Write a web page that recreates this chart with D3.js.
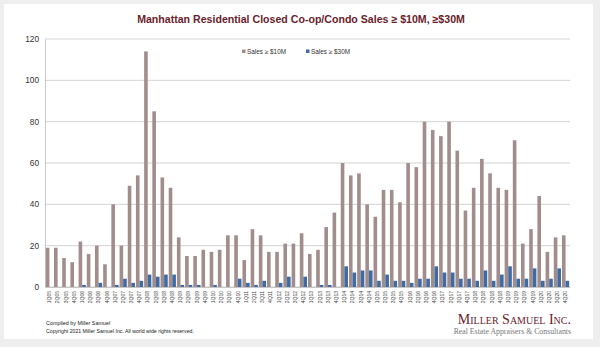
<!DOCTYPE html>
<html>
<head>
<meta charset="utf-8">
<script src="https://cdn.jsdelivr.net/npm/d3@7"></script>
<style>
  html, body { margin: 0; padding: 0; background: #eeeeee; }
  svg { display: block; }
</style>
</head>
<body>
<div id="chart-area"></div>
<script>
// quarters 1Q05 .. 4Q20
const years = d3.range(5, 21).map(y => (y < 10 ? '0' : '') + y);
const quarters = years.flatMap(y => ['1Q', '2Q', '3Q', '4Q'].map(q => q + y));

const sales10M = [
  19, 19, 14, 12, 22, 16, 20, 11, 40, 20, 49, 54, 114, 85, 53, 48,
  24, 15, 15, 18, 17, 18, 25, 25, 13, 28, 25, 17, 17, 21, 21, 26,
  16, 18, 29, 36, 60, 54, 55, 40, 34, 47, 47, 41, 60, 58, 80, 76,
  73, 80, 66, 37, 48, 62, 55, 48, 47, 71, 21, 28, 44, 17, 24, 25
];
const sales30M = [
  0, 0, 0, 0, 1, 0, 2, 0, 1, 4, 2, 3, 6, 5, 6, 6,
  1, 1, 1, 0, 1, 0, 0, 4, 2, 1, 3, 0, 2, 5, 0, 5,
  0, 1, 1, 0, 10, 7, 8, 8, 3, 6, 3, 3, 2, 4, 4, 10,
  7, 7, 4, 4, 3, 8, 3, 6, 10, 4, 4, 9, 3, 4, 9, 3
];
const yTicks = [0, 20, 40, 60, 80, 100, 120];
const seriesNames = ['Sales ≥ $10M', 'Sales ≥ $30M'];
const colors = ['#a28d8d', '#3f6ba5'];

const W = 600, H = 347;
const margin = { left: 45, right: 30, top: 39, bottom: 60 };
const width = W - margin.left - margin.right;
const height = H - margin.top - margin.bottom;

const svg = d3.select('#chart-area')
  .append('svg')
  .attr('width', W)
  .attr('height', H);

// white card on the grey page
svg.append('rect')
  .attr('x', 4).attr('y', 4)
  .attr('width', 589).attr('height', 335)
  .attr('fill', '#ffffff');

svg.append('text')
  .attr('x', 301)
  .attr('y', 23)
  .attr('text-anchor', 'middle')
  .attr('font-family', 'Liberation Sans, Arial, sans-serif')
  .attr('font-weight', 'bold')
  .attr('font-size', '10.6px')
  .attr('fill', '#6a1d2c')
  .text('Manhattan Residential Closed Co-op/Condo Sales ≥ $10M, ≥$30M');

const g = svg.append('g')
  .attr('transform', 'translate(' + margin.left + ', ' + margin.top + ')');

const x = d3.scaleBand()
  .domain(quarters)
  .range([0, width])
  .paddingInner(0.12)
  .paddingOuter(0.1);

const xSub = d3.scaleBand()
  .domain([0, 1])
  .range([0, x.bandwidth()]);

const y = d3.scaleLinear()
  .domain([0, 120])
  .range([height, 0]);

// horizontal gridlines
g.append('g')
  .selectAll('line')
  .data(yTicks)
  .enter()
  .append('line')
  .attr('x1', 0)
  .attr('x2', width)
  .attr('y1', d => y(d))
  .attr('y2', d => y(d))
  .attr('stroke', '#c8c8c8')
  .attr('stroke-width', 0.8);

const yAxisCall = d3.axisLeft(y)
  .tickValues(yTicks)
  .tickSize(0)
  .tickPadding(6);
const yAxis = g.append('g')
  .attr('class', 'y-axis')
  .call(yAxisCall);
yAxis.select('.domain').attr('stroke', '#bdbdbd').attr('stroke-width', 0.8);
yAxis.selectAll('text')
  .attr('font-family', 'Liberation Sans, Arial, sans-serif')
  .attr('font-size', '8.3px')
  .attr('fill', '#333');

// bars: brown for >= $10M, blue for >= $30M
const rows = quarters.map((q, i) => ({ q: q, v: [sales10M[i], sales30M[i]] }));
const groups = g.selectAll('.qtr')
  .data(rows)
  .enter()
  .append('g')
  .attr('class', 'qtr')
  .attr('transform', d => 'translate(' + x(d.q) + ',0)');

groups.selectAll('rect')
  .data(d => d.v.map((v, k) => ({ k: k, v: v })))
  .enter()
  .append('rect')
  .attr('x', d => xSub(d.k))
  .attr('width', xSub.bandwidth())
  .attr('y', d => y(d.v))
  .attr('height', d => height - y(d.v))
  .attr('fill', d => colors[d.k]);

const xAxisCall = d3.axisBottom(x).tickSize(0).tickPadding(3);
const xAxis = g.append('g')
  .attr('class', 'x axis')
  .attr('transform', 'translate(0, ' + height + ')')
  .call(xAxisCall);
xAxis.select('.domain').attr('stroke', '#bdbdbd').attr('stroke-width', 0.8);
xAxis.selectAll('text')
  .attr('font-family', 'Liberation Sans, Arial, sans-serif')
  .attr('font-size', '5px')
  .attr('fill', '#444')
  .attr('y', 0)
  .attr('x', -4)
  .attr('dy', '0.35em')
  .attr('text-anchor', 'end')
  .attr('transform', 'rotate(-90)');

// legend
const legend = svg.append('g')
  .attr('transform', 'translate(242, 52)');
const legendX = [0, 64];
seriesNames.forEach((name, i) => {
  legend.append('rect')
    .attr('x', legendX[i])
    .attr('y', -2.5)
    .attr('width', 3.5)
    .attr('height', 3.5)
    .attr('fill', colors[i]);
  legend.append('text')
    .attr('x', legendX[i] + 5)
    .attr('y', 0)
    .attr('dy', '0.35em')
    .attr('font-family', 'Liberation Sans, Arial, sans-serif')
    .attr('font-size', '6.4px')
    .attr('fill', '#333')
    .text(name);
});

// footer notes
svg.append('text')
  .attr('x', 46).attr('y', 325)
  .attr('font-family', 'Liberation Sans, Arial, sans-serif')
  .attr('font-size', '5.4px')
  .attr('fill', '#222')
  .text('Compiled by Miller Samuel');
svg.append('text')
  .attr('x', 46).attr('y', 333)
  .attr('font-family', 'Liberation Sans, Arial, sans-serif')
  .attr('font-size', '5.2px')
  .attr('fill', '#222')
  .text('Copyright 2021 Miller Samuel Inc.  All world wide rights reserved.');

// company mark
svg.append('text')
  .attr('x', 571).attr('y', 324)
  .attr('text-anchor', 'end')
  .attr('font-family', 'Liberation Serif, Times New Roman, serif')
  .attr('font-size', '14px')
  .attr('fill', '#6a1d2c')
  .style('font-variant', 'small-caps')
  .text('Miller Samuel Inc.');
svg.append('text')
  .attr('x', 571).attr('y', 334)
  .attr('text-anchor', 'end')
  .attr('font-family', 'Liberation Serif, Times New Roman, serif')
  .attr('font-size', '7.8px')
  .attr('fill', '#777')
  .text('Real Estate Appraisers & Consultants');
</script>
</body>
</html>
